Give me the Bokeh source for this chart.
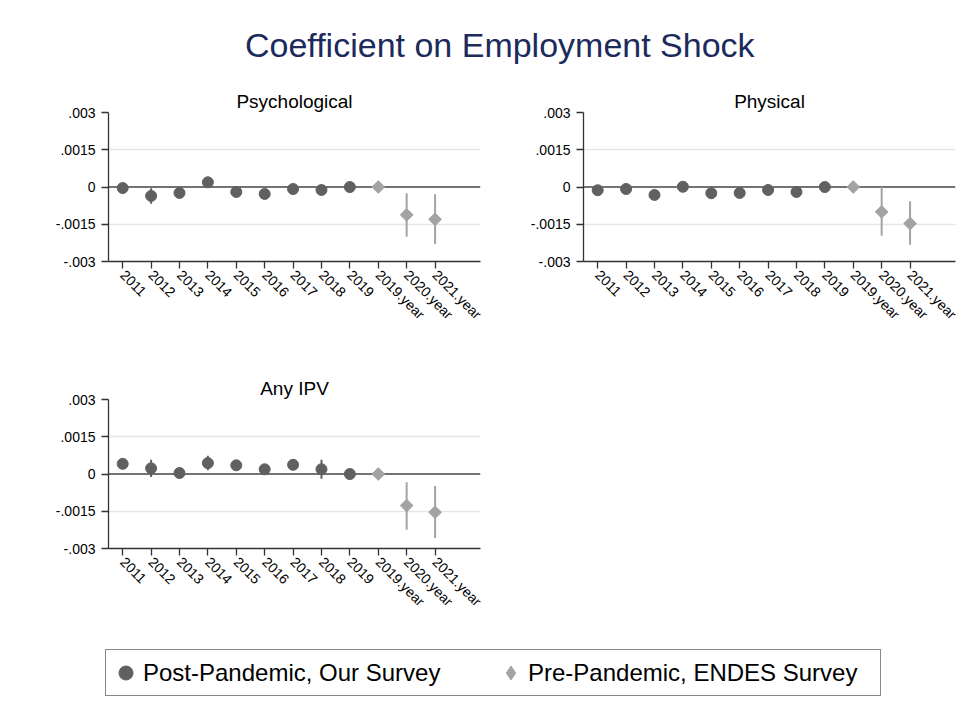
import math
from bokeh.plotting import figure
from bokeh.models import ColumnDataSource, FixedTicker, Span, Legend, LegendItem, Range1d
from bokeh.layouts import column, row
from bokeh.embed import file_html
from bokeh.resources import INLINE
from bokeh.core.properties import value

# ---------------- data ----------------
categories = ["2011", "2012", "2013", "2014", "2015", "2016", "2017", "2018", "2019",
              "2019.year", "2020.year", "2021.year"]
n_post = 9  # first 9 categories: post-pandemic (our survey); last 3: ENDES

y_ticks = [-0.003, -0.0015, 0.0, 0.0015, 0.003]
y_tick_labels = ["-.003", "-.0015", "0", ".0015", ".003"]

psych_post = [-0.00004, -0.00036, -0.00024, 0.00019, -0.00020, -0.00028, -0.00008, -0.00012, 0.0]
psych_post_lo = [-0.00016, -0.00067, -0.00036, 0.00006, -0.00032, -0.00040, -0.00020, -0.00024, 0.0]
psych_post_hi = [0.00008, -0.00005, -0.00012, 0.00032, -0.00008, -0.00016, 0.00004, 0.0, 0.0]
psych_pre = [0.0, -0.00112, -0.00130]
psych_pre_lo = [0.0, -0.00200, -0.00230]
psych_pre_hi = [0.0, -0.00025, -0.00029]

phys_post = [-0.00013, -0.00008, -0.00032, 0.00001, -0.00025, -0.00024, -0.00012, -0.00020, 0.0]
phys_post_lo = [-0.00025, -0.00020, -0.00044, -0.00011, -0.00037, -0.00036, -0.00024, -0.00032, 0.0]
phys_post_hi = [-0.00001, 0.00004, -0.00020, 0.00013, -0.00013, -0.00012, 0.0, -0.00008, 0.0]
phys_pre = [0.0, -0.00100, -0.00147]
phys_pre_lo = [0.0, -0.00196, -0.00233]
phys_pre_hi = [0.0, 0.0, -0.00057]

ipv_post = [0.00041, 0.00023, 0.00004, 0.00044, 0.00035, 0.00019, 0.00037, 0.00019, 0.0]
ipv_post_lo = [0.00024, -0.00012, -0.00012, 0.00015, 0.00019, 0.00004, 0.00022, -0.00019, 0.0]
ipv_post_hi = [0.00057, 0.00057, 0.00021, 0.00073, 0.00051, 0.00034, 0.00052, 0.00057, 0.0]
ipv_pre = [0.0, -0.00127, -0.00154]
ipv_pre_lo = [0.0, -0.00224, -0.00258]
ipv_pre_hi = [0.0, -0.00033, -0.00048]

main_title = "Coefficient on Employment Shock"
panel_titles = ["Psychological", "Physical", "Any IPV"]
legend_labels = ["Post-Pandemic, Our Survey", "Pre-Pandemic, ENDES Survey"]

# ---------------- styles ----------------
FONT = "Liberation Sans"
DARK = "#606060"
LIGHT = "#a3a3a3"
positions = list(range(1, len(categories) + 1))


def draw_points(p, post_src, pre_src, errbars=True, pre_marker="square", pre_size=9,
                pre_angle=math.pi / 4):
    if errbars:
        p.segment(x0="x", y0="lo", x1="x", y1="hi", source=post_src, line_color=DARK, line_width=2)
        p.segment(x0="x", y0="lo", x1="x", y1="hi", source=pre_src, line_color=LIGHT, line_width=2)
    r_post = p.scatter(x="x", y="y", source=post_src, marker="circle", size=11,
                       fill_color=DARK, line_color=DARK)
    r_pre = p.scatter(x="x", y="y", source=pre_src, marker=pre_marker, size=pre_size,
                      angle=pre_angle, fill_color=LIGHT, line_color=LIGHT)
    return r_post, r_pre


def panel(title, width, height, b_left, b_right, b_top, b_bottom,
          post, post_lo, post_hi, pre, pre_lo, pre_hi):
    p = figure(width=width, height=height, x_range=Range1d(0.5, 13.6),
               y_range=Range1d(-0.003, 0.003), toolbar_location=None,
               output_backend="svg", min_border_left=b_left, min_border_right=b_right,
               min_border_top=b_top, min_border_bottom=b_bottom, title=title)
    p.frame_align = False
    p.outline_line_color = None
    p.title.align = "center"
    p.title.text_font = FONT
    p.title.text_font_size = "19px"
    p.title.text_font_style = "normal"
    p.title.text_color = "black"
    p.title.standoff = 2

    p.xgrid.visible = False
    p.ygrid.ticker = FixedTicker(ticks=[t for t in y_ticks if t not in (0.0, y_ticks[0], y_ticks[-1])])
    p.ygrid.grid_line_color = "#e6e6e6"
    p.ygrid.grid_line_width = 1.5

    p.yaxis.ticker = FixedTicker(ticks=y_ticks)
    p.yaxis.major_label_overrides = dict(zip(y_ticks, y_tick_labels))
    p.xaxis.ticker = FixedTicker(ticks=positions)
    p.xaxis.major_label_overrides = dict(zip(positions, categories))
    p.xaxis.major_label_orientation = -math.pi / 4
    for ax in (p.xaxis[0], p.yaxis[0]):
        ax.axis_line_color = "#333333"
        ax.axis_line_width = 1.3
        ax.major_tick_line_color = "#333333"
        ax.major_tick_line_width = 1.3
        ax.major_tick_out = 7
        ax.major_tick_in = 0
        ax.minor_tick_line_color = None
        ax.major_label_text_font = FONT
        ax.major_label_text_font_size = "14px"
        ax.major_label_text_color = "black"
    p.yaxis.major_label_standoff = 6
    p.xaxis.major_label_standoff = 4

    zero = Span(location=0, dimension="width", line_color="#444444", line_width=1.6,
                level="underlay")
    p.add_layout(zero)

    post_src = ColumnDataSource(dict(x=positions[:n_post], y=post, lo=post_lo, hi=post_hi))
    pre_src = ColumnDataSource(dict(x=positions[n_post:], y=pre, lo=pre_lo, hi=pre_hi))
    draw_points(p, post_src, pre_src)
    return p, post_src, pre_src


# title strip
tf = figure(width=979, height=80, x_range=Range1d(0, 1), y_range=Range1d(0, 1),
            toolbar_location=None, output_backend="svg", x_axis_type=None, y_axis_type=None,
            min_border=0)
tf.frame_align = False
tf.outline_line_color = None
tf.grid.visible = False
tf.text(x=[0.51], y=[0.45], text=[main_title], text_font=value(FONT), text_font_size="34px",
        text_color="#1c2a5c", text_align="center", text_baseline="middle")

p1, _, _ = panel(panel_titles[0], 488, 287, 108, 8, 32, 106,
                 psych_post, psych_post_lo, psych_post_hi, psych_pre, psych_pre_lo, psych_pre_hi)
p2, _, _ = panel(panel_titles[1], 491, 287, 95, 24, 32, 106,
                 phys_post, phys_post_lo, phys_post_hi, phys_pre, phys_pre_lo, phys_pre_hi)
p3, ipv_post_src, ipv_pre_src = panel(panel_titles[2], 979, 263, 108, 499, 32, 82,
                                      ipv_post, ipv_post_lo, ipv_post_hi,
                                      ipv_pre, ipv_pre_lo, ipv_pre_hi)

# legend strip: its renderers reuse the Any-IPV data, kept outside the visible range
lf = figure(width=979, height=84, x_range=Range1d(-20, -19), y_range=Range1d(0, 1),
            toolbar_location=None, output_backend="svg", x_axis_type=None, y_axis_type=None,
            min_border=0)
lf.frame_align = False
lf.outline_line_color = None
lf.grid.visible = False
lr_post, lr_pre = draw_points(lf, ipv_post_src, ipv_pre_src, errbars=False,
                              pre_marker="diamond", pre_size=13, pre_angle=0)

legend = Legend(items=[LegendItem(label=legend_labels[0], renderers=[lr_post]),
                       LegendItem(label=legend_labels[1], renderers=[lr_pre])],
                location=(105, 18), orientation="horizontal",
                glyph_width=35, glyph_height=41, label_standoff=0, label_width=350,
                spacing=0, padding=2, margin=0,
                label_text_font=FONT, label_text_font_size="24px", label_text_color="black",
                border_line_color="#111111", border_line_width=1.4,
                background_fill_color="white", background_fill_alpha=1.0)
lf.add_layout(legend)

layout = column(tf, row(p1, p2), p3, lf)

with open("out.html", "w") as f:
    f.write(file_html(layout, INLINE))
